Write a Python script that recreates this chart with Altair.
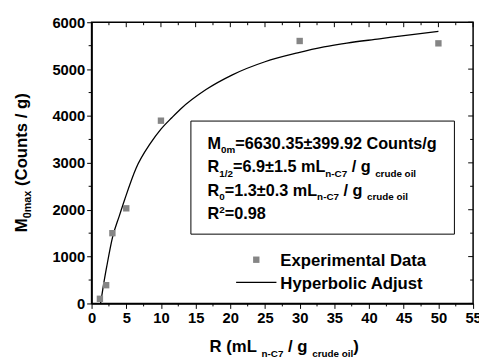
import altair as alt
import pandas as pd

# ---------------- data ----------------
R_EXP = [1.2, 2.1, 3.0, 5.0, 10.0, 30.0, 50.0]
M_EXP = [100, 390, 1500, 2030, 3900, 5600, 5550]

R_FIT = [1.3, 1.7, 2.2, 3.0, 4.0, 4.8, 6.4, 8.5, 10.0, 11.6, 12.8, 16.5, 20.3, 25.0, 29.7, 33.5, 36.8, 41.5, 46.2, 50.0]
M_FIT = [0, 380, 800, 1400, 1870, 2230, 2880, 3420, 3720, 3969, 4145, 4564, 4878, 5157, 5346, 5472, 5555, 5646, 5738, 5807]

X_MAJOR = [0, 5, 10, 15, 20, 25, 30, 35, 40, 45, 50, 55]
X_MINOR = [2.5, 7.5, 12.5, 17.5, 22.5, 27.5, 32.5, 37.5, 42.5, 47.5, 52.5]
Y_MAJOR = [0, 1000, 2000, 3000, 4000, 5000, 6000]
Y_MINOR = [500, 1500, 2500, 3500, 4500, 5500]

LEGEND_LABELS = ["Experimental Data", "Hyperbolic Adjust"]

BOX_LINES = [
    [("M", "n"), ("0m", "sub"), ("=6630.35±399.92 Counts/g", "n")],
    [("R", "n"), ("1/2", "sub"), ("=6.9±1.5 mL", "n"), ("n-C7", "sub"), (" / g ", "n"), ("crude oil", "sub")],
    [("R", "n"), ("0", "sub"), ("=1.3±0.3 mL", "n"), ("n-C7", "sub"), (" / g ", "n"), ("crude oil", "sub")],
    [("R", "n"), ("2", "sup"), ("=0.98", "n")],
]
X_TITLE = [("R (mL ", "n"), ("n-C7", "sub"), (" / g ", "n"), ("crude oil", "sub"), (")", "n")]
Y_TITLE = [("M", "n"), ("0max", "sub"), (" (Counts / g)", "n")]

# ---------------- styling ----------------
FONT = "Liberation Sans"
W, H = 388, 286
GRAY = "#858585"

CW = {' ': 278, '(': 333, ')': 333, '/': 278, '-': 333, '.': 278, '=': 584, '±': 549,
      'M': 833, 'R': 722, 'L': 611, 'C': 722, 'm': 889, 'n': 611, 'a': 556, 'x': 556,
      'o': 611, 'u': 611, 't': 333, 's': 556, 'g': 611, 'c': 556, 'r': 389, 'd': 611,
      'e': 556, 'i': 278, 'l': 278}


def text_width(s, size):
    return sum(CW.get(ch, 556) for ch in s) * size / 1000.0


one = pd.DataFrame({"a": [0]})


def txt(s, px, py, size, angle=0):
    return alt.Chart(one).mark_text(
        text=s, font=FONT, fontSize=size, fontWeight="bold", align="left",
        baseline="alphabetic", angle=angle, color="black"
    ).encode(x=alt.value(px), y=alt.value(py))


def lead(s, size):
    return text_width(s[: len(s) - len(s.lstrip())], size)


def rich_h(parts, px, py, size, sub_size):
    layers = []
    x = px
    for s, kind in parts:
        fs = size if kind == "n" else sub_size
        dy = 0 if kind == "n" else (4.5 if kind == "sub" else -6.5)
        layers.append(txt(s.strip(), x + lead(s, fs), py + dy, fs))
        x += text_width(s, fs)
    return layers


def rich_v(parts, px, py, size, sub_size):
    layers = []
    y = py
    for s, kind in parts:
        fs = size if kind == "n" else sub_size
        dx = 0 if kind == "n" else 4.5
        layers.append(txt(s.strip(), px + dx, y - lead(s, fs), fs, angle=270))
        y -= text_width(s, fs)
    return layers


xs = alt.Scale(domain=[0, 55], nice=False, zero=False)
ys = alt.Scale(domain=[0, 6000], nice=False, zero=False)
axis_common = dict(title=None, grid=False, labelFont=FONT, labelFontSize=15,
                   labelFontWeight="bold", labelColor="black", tickSize=5,
                   tickColor="black", tickWidth=1, domainColor="black",
                   domainWidth=1.5, labelFlush=False, labelOverlap=False, format="d")
xaxis = alt.Axis(values=X_MAJOR, labelPadding=2, **axis_common)
yaxis = alt.Axis(values=Y_MAJOR, labelPadding=2, **axis_common)


def X(f):
    return alt.X(f, type="quantitative", scale=xs, axis=xaxis)


def Y(f):
    return alt.Y(f, type="quantitative", scale=ys, axis=yaxis)


exp_df = pd.DataFrame({"R": R_EXP, "M": M_EXP})
fit_df = pd.DataFrame({"R": R_FIT, "M": M_FIT})
xmaj = pd.DataFrame({"t": X_MAJOR})
xmin = pd.DataFrame({"t": X_MINOR})
ymaj = pd.DataFrame({"t": Y_MAJOR})
ymin = pd.DataFrame({"t": Y_MINOR})

points = alt.Chart(exp_df).mark_square(size=42, color=GRAY, opacity=1).encode(x=X("R"), y=Y("M"))
curve = alt.Chart(fit_df).mark_line(color="black", strokeWidth=1.3, interpolate="monotone").encode(
    x=X("R"), y=Y("M"))

rule = dict(color="black", strokeWidth=1)
ticks = [
    alt.Chart(xmin).mark_rule(**rule).encode(x=X("t"), y=alt.value(H), y2=alt.value(H + 3)),
    alt.Chart(ymin).mark_rule(**rule).encode(y=Y("t"), x=alt.value(0), x2=alt.value(-3)),
    alt.Chart(xmaj).mark_rule(**rule).encode(x=X("t"), y=alt.value(0), y2=alt.value(5)),
    alt.Chart(xmin).mark_rule(**rule).encode(x=X("t"), y=alt.value(0), y2=alt.value(3)),
    alt.Chart(ymaj).mark_rule(**rule).encode(y=Y("t"), x=alt.value(W), x2=alt.value(W - 5)),
    alt.Chart(ymin).mark_rule(**rule).encode(y=Y("t"), x=alt.value(W), x2=alt.value(W - 3)),
]

box = alt.Chart(one).mark_rect(fill="white", stroke="black", strokeWidth=1).encode(
    x=alt.value(101), x2=alt.value(369), y=alt.value(100.5), y2=alt.value(215.5))

box_text = []
for i, line in enumerate(BOX_LINES):
    box_text += rich_h(line, 118, 128.5 + 24 * i, 16.5, 10)

legend = [
    alt.Chart(one).mark_square(size=42, color=GRAY, opacity=1).encode(x=alt.value(167.5), y=alt.value(241.5)),
    alt.Chart(one).mark_rule(color="black", strokeWidth=1.2).encode(
        x=alt.value(147), x2=alt.value(188), y=alt.value(264.5)),
    txt(LEGEND_LABELS[0], 192, 248, 17),
    txt(LEGEND_LABELS[1], 192, 271, 17),
]

titles = rich_h(X_TITLE, 120, 335.5, 17, 10) + rich_v(Y_TITLE, -66, 213.5, 17, 11)

chart = alt.layer(curve, points, *ticks, box, *box_text, *legend, *titles).properties(
    width=W, height=H,
    padding={"left": 85, "top": 11.5, "right": 6, "bottom": 54.5},
    autosize=alt.AutoSizeParams(type="none"),
).configure_view(stroke="black", strokeWidth=1.5)

chart.save("out.html", embed_options={"renderer": "svg", "actions": False})
